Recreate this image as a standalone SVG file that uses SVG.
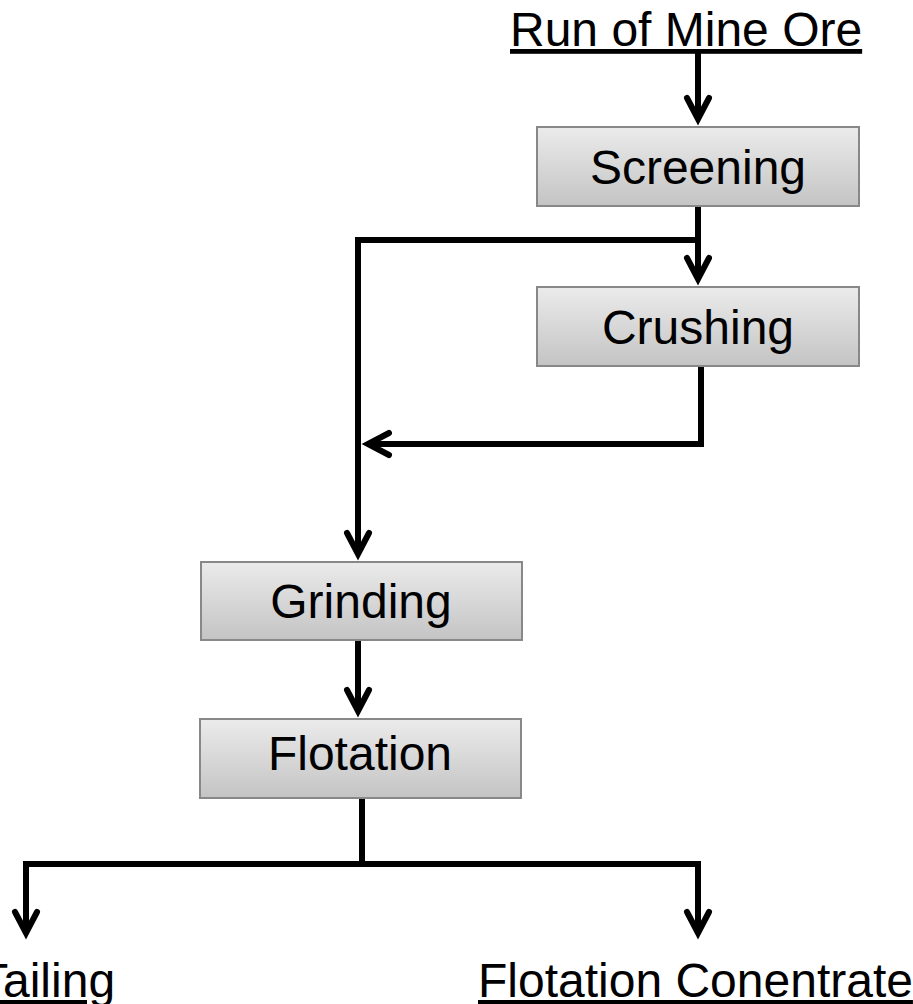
<svg xmlns="http://www.w3.org/2000/svg" width="913" height="1004" viewBox="0 0 913 1004">
  <style>
    .box { fill: url(#boxGrad); stroke: #888888; stroke-width: 2; }
    .lbl { font-family: "Liberation Sans", Arial, sans-serif; font-size: 48px; fill: #000000; }
    .mid { text-anchor: middle; }
    .ul { text-decoration: underline; }
    .conn { fill: none; stroke: #000000; stroke-width: 6; stroke-linejoin: miter; }
    .arr { marker-end: url(#arrow); }
  </style>
  <defs>
    <linearGradient id="boxGrad" x1="0" y1="0" x2="0" y2="1">
      <stop offset="0" stop-color="#ebebeb"/>
      <stop offset="1" stop-color="#c4c4c4"/>
    </linearGradient>
    <marker id="arrow" markerUnits="userSpaceOnUse" markerWidth="40" markerHeight="40" refX="0" refY="0" orient="auto" overflow="visible">
      <path d="M-21,-11 L0,0 L-21,11" fill="none" stroke="#000000" stroke-width="6" stroke-linejoin="miter" stroke-linecap="round"/>
    </marker>
  </defs>
  <rect width="913" height="1004" fill="#ffffff"/>

  <g id="connectors">
    <path class="conn arr" d="M698,49 L698,119"/>
    <path class="conn arr" d="M698,206 L698,279"/>
    <path class="conn arr" d="M698,240 L358,240 L358,554"/>
    <path class="conn arr" d="M701,366 L701,444 L368,444"/>
    <path class="conn arr" d="M358,640 L358,711"/>
    <path class="conn" d="M362,798 L362,864"/>
    <path class="conn arr" d="M26,933 L26,864 L698,864 L698,933"/>
    <path class="conn arr" d="M26,864 L26,933"/>
  </g>

  <g id="run-of-mine-ore">
    <text class="lbl ul" x="510" y="46">Run of Mine Ore</text>
  </g>
  <g id="screening">
    <rect class="box" x="537" y="127" width="322" height="79"/>
    <text class="lbl mid" x="698" y="184">Screening</text>
  </g>
  <g id="crushing">
    <rect class="box" x="537" y="287" width="322" height="79"/>
    <text class="lbl mid" x="698" y="344">Crushing</text>
  </g>
  <g id="grinding">
    <rect class="box" x="201" y="562" width="321" height="78"/>
    <text class="lbl mid" x="361" y="618">Grinding</text>
  </g>
  <g id="flotation">
    <rect class="box" x="200" y="719" width="321" height="79"/>
    <text class="lbl mid" x="360" y="770">Flotation</text>
  </g>
  <g id="tailing">
    <text class="lbl ul" x="-21" y="997">Tailing</text>
  </g>
  <g id="flotation-concentrate">
    <text class="lbl ul" x="478" y="997">Flotation Conentrate</text>
  </g>
</svg>
